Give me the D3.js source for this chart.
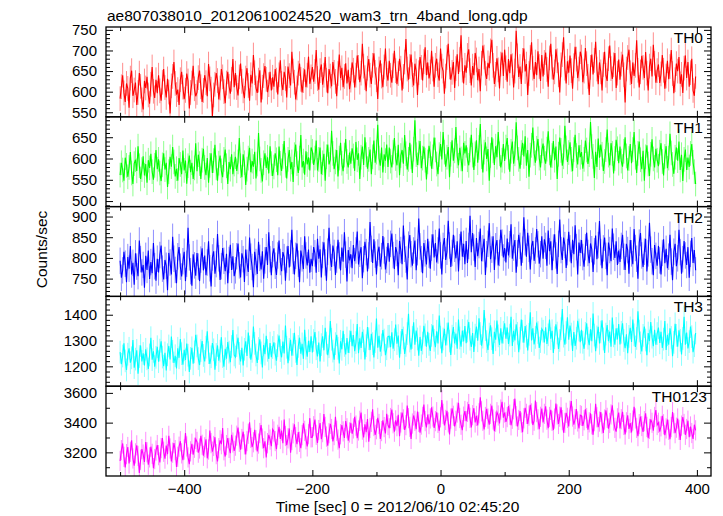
<!DOCTYPE html>
<html>
<head>
<meta charset="utf-8">
<script src="https://cdn.jsdelivr.net/npm/d3@7"></script>
<style>
  html, body { margin: 0; padding: 0; background: #fff; }
  svg { display: block; font-family: "Liberation Sans", Arial, Helvetica, sans-serif; }
</style>
</head>
<body>
<svg id="chart" width="723" height="516"></svg>
<script>
// ---------------- DATA ----------------
const title = "ae807038010_20120610024520_wam3_trn_4band_long.qdp";
const xLabel = "Time [sec] 0 = 2012/06/10 02:45:20";
const yLabel = "Counts/sec";
const bandNames = ["TH0", "TH1", "TH2", "TH3", "TH0123"];
const bandColors = ["#ff0000", "#00ff00", "#0000ff", "#00ffff", "#ff00ff"];
const timeStart = -500;   // first bin time [s]
const timeStep = 2;       // bin width [s]
const bandErrors = [30, 29, 32, 44, 68];
const yDomains = [[539, 757], [487, 698], [707, 924], [1123, 1471], [3041, 3645]];
const yMajorTicks = [[550, 600, 650, 700, 750], [500, 550, 600, 650], [750, 800, 850, 900], [1200, 1300, 1400], [3200, 3400, 3600]];
const yMinorSteps = [10, 10, 10, 20, 100];
const xDomain = [-522, 422];
const xMajorTicks = [-400, -200, 0, 200, 400];
const xMinorTicks = [-500, -300, -100, 100, 300];

const th0 = [
583,612,640,597,575,620,608,561,633,651,590,604,622,568,598,645,613,580,557,626,609,636,592,571,618,660,601,585,629,596,
640,602,578,623,655,610,586,631,599,547,614,637,672,620,593,605,568,629,648,611,582,603,644,626,559,598,621,663,607,589,
598,634,651,612,575,603,640,622,589,667,631,606,540,592,618,645,627,581,609,655,636,600,572,621,648,613,595,630,679,611,
645,610,591,636,668,625,602,584,633,657,615,578,641,620,689,646,609,597,628,652,574,611,639,662,630,599,617,648,603,635,
612,655,628,593,641,676,620,604,648,632,586,661,639,615,697,650,623,581,609,645,668,630,598,627,654,611,640,685,619,636,
660,624,649,701,632,605,651,666,617,640,684,628,596,655,638,613,672,647,625,589,644,690,633,658,611,637,669,620,653,606,
628,671,652,610,640,688,659,623,645,716,662,634,601,657,679,640,619,664,693,647,629,582,655,676,638,611,660,705,643,627,
675,640,622,663,699,651,618,644,680,657,603,637,672,728,655,629,661,690,641,615,668,650,592,646,684,659,627,673,708,640,
671,632,648,699,655,612,664,680,641,627,705,662,650,595,638,683,716,660,629,647,672,609,656,691,643,678,737,652,620,664,
646,688,703,651,615,662,640,694,677,628,655,601,669,712,684,645,631,670,657,699,726,664,619,642,681,653,608,667,695,638,
702,658,624,679,645,691,663,610,650,748,687,636,661,619,676,705,649,667,592,644,683,720,657,631,672,640,698,661,626,689,
637,671,695,654,612,682,716,660,629,648,703,675,641,598,665,690,732,657,620,674,646,688,651,607,663,709,679,633,655,697,
684,623,650,706,668,637,592,659,690,642,676,721,655,618,671,648,603,666,697,640,626,680,712,656,631,665,694,609,645,678,
629,667,690,641,574,655,683,702,646,619,671,638,664,725,652,610,648,687,659,633,696,645,603,662,680,637,714,669,622,651,
666,621,643,689,652,607,638,675,630,661,701,644,596,629,668,650,684,619,642,597,657,688,633,672,612,646,680,603,590,637
];
const th1 = [
561,590,573,548,602,584,557,579,615,566,540,588,597,571,629,583,552,574,605,560,587,543,596,578,611,569,550,584,620,575,
598,566,547,585,612,574,590,533,569,604,581,627,592,558,576,548,601,586,563,619,572,595,541,583,607,568,590,552,578,636,
570,609,588,552,596,623,579,561,601,543,584,612,566,595,632,578,548,589,607,571,556,598,621,583,540,592,575,610,563,587,
604,571,592,648,583,556,610,590,538,575,601,625,568,594,581,616,553,587,660,599,572,546,590,612,578,603,565,629,588,559,
580,612,597,561,628,589,571,605,641,584,553,598,620,575,592,545,609,633,588,566,601,655,579,594,562,617,586,603,572,626,
617,585,601,642,572,598,626,563,590,611,548,604,633,586,597,665,612,575,592,620,558,601,637,589,570,608,646,593,579,614,
588,624,606,571,639,597,612,552,603,628,585,650,609,576,598,621,563,604,642,590,615,679,601,583,626,567,610,595,633,580,
626,594,579,615,648,600,584,632,561,607,620,588,655,611,574,598,637,604,566,622,690,609,585,613,641,577,601,628,596,551,
592,630,611,576,604,649,620,587,563,609,634,598,662,615,581,603,627,556,610,643,595,618,674,606,584,625,599,570,637,612,
631,597,584,620,656,608,573,611,643,590,626,681,604,567,615,638,599,622,548,607,650,618,585,629,603,662,611,579,596,634,
594,627,648,603,569,617,640,588,611,685,625,598,576,614,637,605,652,583,620,557,608,631,673,612,590,624,646,601,579,618,
635,601,588,622,664,613,579,607,641,596,628,552,610,649,619,583,604,677,625,592,614,638,598,570,621,656,607,586,631,603,
615,576,598,642,620,587,609,686,628,605,554,616,580,647,602,633,610,571,593,621,668,608,584,636,612,565,600,644,623,589,
628,594,581,617,650,606,572,600,634,589,621,662,603,566,612,640,597,575,618,548,604,631,587,559,610,645,599,579,623,596,
582,615,636,593,560,605,629,577,601,658,613,586,564,603,626,595,640,573,609,547,598,621,573,602,580,612,634,591,569,540
];
const th2 = [
793,752,770,815,786,741,802,774,829,760,788,735,811,779,756,842,797,765,783,728,805,771,818,749,790,763,836,780,745,798,
765,807,830,774,748,795,781,722,812,789,760,851,798,771,739,804,826,779,755,792,815,744,786,873,801,768,733,809,782,757,
812,779,744,796,823,770,806,758,789,840,775,731,801,816,762,785,858,799,747,780,824,793,768,810,739,795,832,771,804,756,
770,804,835,782,753,811,797,742,820,788,766,849,803,778,729,815,790,761,839,800,772,816,750,794,826,783,862,797,758,809,
823,781,759,806,842,790,768,814,802,745,796,829,777,811,868,793,760,805,835,786,741,818,799,773,852,806,782,820,764,798,
780,826,811,764,846,798,821,753,807,838,789,745,815,873,801,778,830,812,759,796,844,806,770,825,791,862,808,743,819,794,
809,775,831,792,818,864,784,810,826,751,797,839,814,767,806,887,822,788,845,808,760,813,827,779,804,853,818,772,795,836,
791,834,859,807,773,826,812,758,841,819,785,878,822,796,748,832,855,809,781,818,842,770,814,895,828,797,763,836,811,784,
846,808,774,825,857,801,836,789,818,871,806,760,829,848,795,815,890,830,778,812,856,822,799,840,767,826,864,803,834,785,
841,788,829,902,814,860,825,778,848,804,831,871,792,823,846,759,809,834,884,797,820,852,771,828,843,782,812,868,837,801,
824,789,847,806,833,881,798,825,843,764,811,856,829,781,820,898,838,803,861,822,772,828,841,793,818,870,833,786,809,852,
798,845,829,781,866,816,840,770,825,857,806,761,834,893,819,795,849,831,776,814,863,823,787,844,809,879,826,760,837,812,
843,802,779,826,861,812,787,835,821,766,816,854,797,831,889,814,775,823,849,805,758,837,819,792,871,827,800,840,783,818,
790,829,856,803,771,834,819,762,843,811,785,870,824,798,750,837,860,806,778,815,846,767,811,885,820,792,758,831,805,781,
829,794,760,812,845,787,822,775,803,856,791,746,815,834,780,799,868,814,762,797,841,806,783,826,752,810,848,788,819,770
];
const th3 = [
1255,1208,1240,1289,1221,1186,1247,1270,1214,1233,1302,1195,1228,1262,1171,1238,1281,1219,1250,1203,1266,1229,1190,1244,1311,1226,1258,1199,1235,1276,
1218,1263,1297,1236,1201,1252,1184,1245,1279,1227,1315,1258,1213,1241,1192,1270,1233,1306,1249,1206,1264,1225,1288,1243,1178,1231,1272,1210,1256,1322,
1279,1230,1205,1261,1298,1242,1219,1274,1336,1253,1209,1237,1290,1264,1187,1246,1281,1222,1259,1313,1238,1199,1268,1230,1294,1255,1216,1277,1341,1244,
1236,1280,1311,1250,1219,1272,1203,1266,1297,1240,1331,1275,1226,1258,1354,1289,1244,1213,1269,1305,1252,1196,1283,1247,1318,1262,1229,1290,1235,1273,
1293,1247,1222,1280,1319,1261,1235,1296,1250,1358,1274,1212,1266,1303,1241,1285,1330,1258,1205,1277,1311,1249,1287,1229,1342,1270,1237,1299,1256,1316,
1254,1300,1333,1268,1238,1292,1219,1284,1316,1262,1349,1290,1243,1276,1376,1305,1259,1226,1288,1322,1270,1211,1297,1266,1338,1281,1246,1310,1252,1295,
1338,1278,1321,1259,1292,1364,1251,1309,1271,1334,1299,1227,1280,1352,1307,1263,1326,1288,1234,1296,1385,1272,1318,1257,1283,1341,1302,1243,1268,1316,
1317,1274,1332,1268,1303,1362,1288,1319,1233,1292,1344,1310,1248,1281,1327,1404,1298,1265,1312,1371,1284,1339,1306,1241,1314,1260,1290,1357,1322,1276,
1334,1285,1260,1320,1359,1301,1274,1336,1289,1397,1313,1251,1306,1345,1281,1325,1370,1298,1244,1317,1352,1289,1327,1268,1381,1310,1276,1339,1296,1356,
1290,1337,1372,1305,1275,1329,1256,1321,1354,1299,1386,1327,1280,1313,1418,1342,1296,1263,1325,1359,1307,1248,1334,1303,1377,1318,1283,1347,1289,1332,
1367,1307,1350,1287,1321,1392,1279,1338,1300,1363,1328,1255,1309,1381,1336,1292,1356,1317,1262,1324,1409,1300,1347,1285,1312,1370,1331,1271,1296,1345,
1336,1293,1351,1287,1322,1381,1307,1338,1252,1311,1363,1329,1267,1300,1346,1422,1317,1284,1331,1390,1303,1358,1325,1260,1333,1279,1309,1376,1341,1294,
1342,1293,1268,1328,1367,1309,1282,1344,1297,1405,1321,1259,1314,1353,1289,1333,1378,1306,1252,1325,1360,1297,1335,1276,1389,1318,1284,1347,1304,1364,
1285,1332,1367,1300,1270,1324,1251,1316,1349,1294,1381,1322,1275,1308,1413,1337,1291,1258,1320,1354,1302,1243,1329,1298,1372,1313,1278,1342,1284,1327,
1350,1291,1334,1271,1305,1376,1263,1322,1284,1347,1312,1239,1293,1365,1320,1276,1340,1301,1246,1308,1392,1284,1331,1269,1296,1354,1315,1255,1280,1329
];
const th0123 = [
3142,3215,3260,3170,3098,3188,3236,3125,3204,3281,3159,3110,3193,3247,3176,3062,3150,3222,3185,3135,3270,3201,3117,3166,3238,3190,3094,3155,3212,3249,
3181,3132,3229,3296,3204,3158,3245,3187,3311,3226,3139,3198,3262,3215,3102,3170,3238,3275,3193,3148,3219,3330,3240,3166,3121,3207,3258,3184,3231,3290,
3270,3198,3226,3312,3251,3177,3234,3288,3160,3219,3347,3262,3205,3243,3302,3188,3139,3228,3281,3255,3363,3214,3172,3249,3296,3230,3195,3318,3266,3210,
3245,3312,3367,3271,3218,3290,3339,3254,3186,3276,3325,3402,3297,3236,3268,3351,3282,3207,3259,3330,3384,3293,3228,3274,3166,3262,3318,3286,3241,3355,
3340,3276,3221,3318,3372,3291,3347,3262,3420,3310,3249,3294,3361,3198,3283,3328,3389,3302,3255,3337,3271,3228,3316,3395,3345,3288,3240,3322,3430,3301,
3302,3376,3421,3318,3263,3350,3397,3289,3336,3458,3371,3306,3245,3329,3392,3357,3274,3316,3440,3345,3286,3228,3322,3383,3341,3297,3410,3362,3278,3334,
3398,3325,3361,3439,3380,3296,3347,3412,3468,3353,3301,3389,3336,3424,3272,3364,3405,3490,3377,3318,3356,3432,3391,3290,3343,3415,3370,3327,3459,3384,
3362,3431,3488,3396,3339,3415,3376,3452,3309,3401,3467,3422,3351,3383,3515,3430,3372,3290,3394,3448,3412,3356,3474,3405,3333,3387,3439,3521,3410,3368,
3455,3390,3428,3503,3441,3364,3410,3470,3398,3345,3436,3552,3459,3381,3418,3480,3402,3320,3427,3496,3446,3375,3412,3468,3533,3431,3386,3349,3440,3478,
3410,3472,3525,3432,3368,3450,3497,3401,3445,3381,3463,3570,3476,3412,3354,3438,3492,3427,3386,3459,3515,3421,3343,3406,3470,3448,3395,3488,3540,3433,
3468,3405,3437,3512,3453,3382,3426,3490,3561,3444,3374,3418,3478,3400,3336,3429,3500,3459,3391,3447,3520,3462,3384,3413,3548,3471,3422,3356,3439,3495,
3401,3459,3510,3420,3363,3438,3486,3412,3350,3427,3529,3455,3391,3440,3503,3417,3332,3398,3466,3432,3374,3480,3545,3441,3386,3424,3491,3408,3361,3450,
3445,3378,3416,3490,3431,3352,3402,3462,3389,3318,3410,3527,3436,3370,3407,3471,3393,3331,3421,3483,3432,3360,3398,3455,3516,3414,3365,3339,3429,3468,
3361,3423,3472,3384,3320,3402,3449,3358,3397,3334,3414,3506,3428,3365,3309,3390,3441,3377,3338,3410,3462,3371,3296,3358,3422,3399,3346,3438,3485,3384,
3399,3340,3375,3446,3389,3315,3361,3420,3352,3288,3370,3471,3396,3329,3366,3428,3351,3284,3380,3437,3391,3318,3357,3413,3302,3374,3330,3290,3386,3348
];
const bandValues = [th0, th1, th2, th3, th0123];

// ---------------- LAYOUT ----------------
const svg = d3.select("#chart");
const plotLeft = 106, plotRight = 711, plotTop = 27, plotBottom = 476;
const nPanels = bandNames.length;
const panelH = (plotBottom - plotTop) / nPanels;
const fontSize = 15;
const fmt = d => d3.format("d")(d).replace("-", "\u2212");

const x = d3.scaleLinear().domain(xDomain).range([plotLeft, plotRight]);

svg.append("text")
  .attr("x", 107).attr("y", 21)
  .attr("font-size", 15.5).attr("fill", "#000")
  .text(title);

bandNames.forEach((name, i) => {
  const top = plotTop + i * panelH;
  const bottom = top + panelH;
  const y = d3.scaleLinear().domain(yDomains[i]).range([bottom, top]);
  const values = bandValues[i];
  const pts = values.map((v, k) => ({ t: timeStart + k * timeStep, v: v }));
  const err = bandErrors[i];
  const color = bandColors[i];

  const clipId = "clip" + i;
  svg.append("clipPath").attr("id", clipId)
    .append("rect")
    .attr("x", plotLeft).attr("y", top)
    .attr("width", plotRight - plotLeft).attr("height", panelH);

  const g = svg.append("g").attr("clip-path", `url(#${clipId})`);

  // error bars
  g.append("g")
    .selectAll("line")
    .data(pts)
    .join("line")
    .attr("x1", d => x(d.t)).attr("x2", d => x(d.t))
    .attr("y1", d => y(d.v - err)).attr("y2", d => y(d.v + err))
    .attr("stroke", color).attr("stroke-opacity", 0.45).attr("stroke-width", 1);

  // data line
  g.append("path")
    .datum(pts)
    .attr("fill", "none")
    .attr("stroke", color)
    .attr("stroke-width", 1.1)
    .attr("d", d3.line().x(d => x(d.t)).y(d => y(d.v)));

  // minor y ticks
  const [y0, y1] = yDomains[i];
  const step = yMinorSteps[i];
  const minor = d3.range(Math.ceil(y0 / step) * step, y1 + 0.001, step)
    .filter(v => !yMajorTicks[i].includes(v));

  const axisStyle = sel => {
    sel.select(".domain").remove();
    sel.selectAll("line").attr("stroke", "#000").attr("stroke-width", 1);
    sel.selectAll("text").attr("font-size", fontSize).attr("fill", "#000")
      .attr("font-family", '"Liberation Sans", Arial, Helvetica, sans-serif');
  };

  svg.append("g").attr("transform", `translate(${plotLeft},0)`)
    .call(d3.axisLeft(y).tickValues(yMajorTicks[i]).tickSize(-7).tickPadding(9).tickFormat(fmt))
    .call(axisStyle);
  svg.append("g").attr("transform", `translate(${plotLeft},0)`)
    .call(d3.axisLeft(y).tickValues(minor).tickSize(-4).tickFormat(""))
    .call(axisStyle);
  svg.append("g").attr("transform", `translate(${plotRight},0)`)
    .call(d3.axisRight(y).tickValues(yMajorTicks[i]).tickSize(-7).tickFormat(""))
    .call(axisStyle);
  svg.append("g").attr("transform", `translate(${plotRight},0)`)
    .call(d3.axisRight(y).tickValues(minor).tickSize(-4).tickFormat(""))
    .call(axisStyle);

  // x ticks (top, bottom)
  const isLast = i === nPanels - 1;
  svg.append("g").attr("transform", `translate(0,${top})`)
    .call(d3.axisTop(x).tickValues(xMajorTicks).tickSize(-6).tickFormat(""))
    .call(axisStyle);
  svg.append("g").attr("transform", `translate(0,${top})`)
    .call(d3.axisTop(x).tickValues(xMinorTicks).tickSize(-4).tickFormat(""))
    .call(axisStyle);
  svg.append("g").attr("transform", `translate(0,${bottom})`)
    .call(d3.axisBottom(x).tickValues(xMajorTicks).tickSize(-6).tickPadding(7)
      .tickFormat(isLast ? fmt : ""))
    .call(axisStyle);
  svg.append("g").attr("transform", `translate(0,${bottom})`)
    .call(d3.axisBottom(x).tickValues(xMinorTicks).tickSize(-4).tickFormat(""))
    .call(axisStyle);

  // frame
  svg.append("rect")
    .attr("x", plotLeft).attr("y", top)
    .attr("width", plotRight - plotLeft).attr("height", panelH)
    .attr("fill", "none").attr("stroke", "#000").attr("stroke-width", 1.3);

  // band label
  svg.append("text")
    .attr("x", isLast ? 707 : 703).attr("y", top + 16)
    .attr("text-anchor", "end")
    .attr("font-size", 15.5).attr("fill", "#000")
    .text(name);
});

svg.append("text")
  .attr("x", 397.5).attr("y", 511.5)
  .attr("text-anchor", "middle")
  .attr("font-size", 15.5).attr("fill", "#000")
  .text(xLabel);

svg.append("text")
  .attr("transform", `translate(47,${(plotTop + plotBottom) / 2 - 2}) rotate(-90)`)
  .attr("text-anchor", "middle")
  .attr("font-size", 15.5).attr("fill", "#000")
  .text(yLabel);
</script>
</body>
</html>
